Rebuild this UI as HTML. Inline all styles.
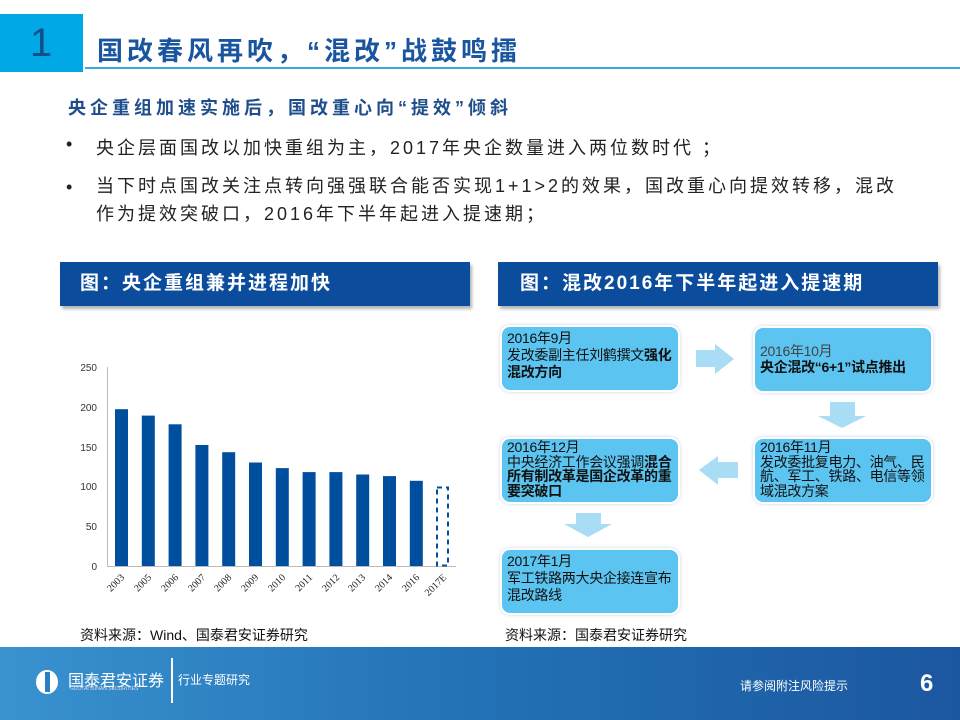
<!DOCTYPE html>
<html><head><meta charset="utf-8"><style>
body{margin:0;width:960px;height:720px;position:relative;overflow:hidden;background:#fff;font-family:"Liberation Sans","Noto Sans CJK SC",sans-serif;}
.a{position:absolute;}
.hd{background:#0b4d9c;color:#fff;font-weight:bold;font-size:19px;line-height:44px;box-shadow:2px 3px 3px rgba(0,0,0,.3);letter-spacing:2px;}
.bx{position:absolute;background:#5bc4f0;border-radius:10px;border:2px solid #fff;font-size:14px;line-height:16px;color:#111;padding:3px 5px;box-sizing:border-box;width:180px;height:67px;box-shadow:0 0 3px rgba(150,170,200,.5);letter-spacing:-0.3px;}
.bx b{font-weight:bold;}
.bul{font-size:18px;color:#222;letter-spacing:3px;}
</style></head><body>
<div class="a" style="left:0;top:14px;width:83px;height:58px;background:#00a8e6;"></div>
<div class="a" style="left:30px;top:14px;line-height:58px;font-size:40px;color:#164d8a;">1</div>
<div class="a" style="left:85px;top:67px;width:875px;height:2px;background:#3aa7e0;"></div>
<div class="a" style="left:97px;top:31px;font-size:26px;font-weight:bold;color:#1a56a0;letter-spacing:4px;">国改春风再吹，“混改”战鼓鸣擂</div>
<div class="a" style="left:68px;top:94px;font-size:18px;font-weight:bold;color:#1f4e8c;letter-spacing:4px;">央企重组加速实施后，国改重心向“提效”倾斜</div>
<div class="a bul" style="left:66px;top:134px;">•</div>
<div class="a bul" style="left:96px;top:134px;">央企层面国改以加快重组为主，2017年央企数量进入两位数时代 ；</div>
<div class="a bul" style="left:66px;top:177px;">•</div>
<div class="a bul" style="left:96px;top:177px;line-height:28px;margin-top:-5px;">当下时点国改关注点转向强强联合能否实现1+1&gt;2的效果，国改重心向提效转移，混改<br>作为提效突破口，2016年下半年起进入提速期；</div>
<div class="a hd" style="left:60px;top:262px;width:410px;text-indent:20px;">图：央企重组兼并进程加快</div>
<div class="a hd" style="left:498px;top:262px;width:440px;text-indent:22px;">图：混改2016年下半年起进入提速期</div>
<svg class="a" style="left:0;top:0" width="480" height="640">
<g font-family="Liberation Sans,sans-serif" font-size="10" fill="#333" text-anchor="end">
<text x="97" y="371">250</text><text x="97" y="411">200</text><text x="97" y="451">150</text><text x="97" y="490">100</text><text x="97" y="530">50</text><text x="97" y="570">0</text>
</g>
<line x1="107.5" y1="367" x2="107.5" y2="567" stroke="#bbb"/>
<line x1="107" y1="566.5" x2="456" y2="566.5" stroke="#bbb"/>
<g fill="#004f9e">
<rect x="115" y="409.2" width="13" height="156.8"/>
<rect x="141.8" y="415.6" width="13" height="150.4"/>
<rect x="168.6" y="424.3" width="13" height="141.7"/>
<rect x="195.4" y="445" width="13" height="121"/>
<rect x="222.2" y="452.2" width="13" height="113.8"/>
<rect x="249" y="462.5" width="13" height="103.5"/>
<rect x="275.8" y="468.1" width="13" height="97.9"/>
<rect x="302.6" y="472.1" width="13" height="93.9"/>
<rect x="329.4" y="472.1" width="13" height="93.9"/>
<rect x="356.2" y="474.5" width="13" height="91.5"/>
<rect x="383" y="476.1" width="13" height="89.9"/>
<rect x="409.8" y="480.8" width="13" height="85.2"/>
</g>
<rect x="437" y="487.5" width="11" height="78" fill="none" stroke="#004f9e" stroke-width="2" stroke-dasharray="5,4"/>
<g font-family="Liberation Serif,serif" font-size="10" fill="#222" text-anchor="end">
<text transform="translate(125,578) rotate(-45)">2003</text>
<text transform="translate(152,578) rotate(-45)">2005</text>
<text transform="translate(179,578) rotate(-45)">2006</text>
<text transform="translate(206,578) rotate(-45)">2007</text>
<text transform="translate(232,578) rotate(-45)">2008</text>
<text transform="translate(259,578) rotate(-45)">2009</text>
<text transform="translate(286,578) rotate(-45)">2010</text>
<text transform="translate(313,578) rotate(-45)">2011</text>
<text transform="translate(340,578) rotate(-45)">2012</text>
<text transform="translate(366,578) rotate(-45)">2013</text>
<text transform="translate(393,578) rotate(-45)">2014</text>
<text transform="translate(420,578) rotate(-45)">2016</text>
<text transform="translate(447,578) rotate(-45)">2017E</text>
</g>
</svg>
<div class="bx" style="left:500px;top:325px;line-height:17px;">2016年9月<br>发改委副主任刘鹤撰文<b>强化<br>混改方向</b></div>
<div class="bx" style="left:753px;top:326px;padding-top:15px;"><span style="color:#444">2016年10月</span><br><b>央企混改“6+1”试点推出</b></div>
<div class="bx" style="left:753px;top:437px;line-height:14.5px;padding-top:1px;">2016年11月<br>发改委批复电力、油气、民航、军工、铁路、电信等领域混改方案</div>
<div class="bx" style="left:500px;top:437px;line-height:14.5px;padding-top:1px;">2016年12月<br>中央经济工作会议强调<b>混合所有制改革是国企改革的重要突破口</b></div>
<div class="bx" style="left:500px;top:548px;line-height:17px;">2017年1月<br>军工铁路两大央企接连宣布混改路线</div>
<svg class="a" style="left:0;top:0" width="960" height="640">
<g fill="#a9dcf5">
<polygon points="696,350 715,350 715,344 734,359 715,374 715,367 696,367"/>
<polygon points="830,402 855,402 855,416 866,416 842,428 818,416 830,416"/>
<polygon points="738,462 718,462 718,456 699,470 718,485 718,478 738,478"/>
<polygon points="576,513 601,513 601,524 612,524 588,537 564,524 576,524"/>
</g></svg>
<div class="a" style="left:80px;top:625px;font-size:14px;color:#111;">资料来源：Wind、国泰君安证券研究</div>
<div class="a" style="left:505px;top:625px;font-size:14px;color:#111;">资料来源：国泰君安证券研究</div>
<div class="a" style="left:0;top:647px;width:960px;height:73px;background:linear-gradient(90deg,#3a92cf,#2474b8 45%,#1b57a0);"></div>
<div class="a" style="left:36px;top:670px;width:22px;height:24px;border-radius:50%;background:#fff;"></div>
<div class="a" style="left:45px;top:672px;width:5px;height:20px;background:#2a7fc0;"></div>
<div class="a" style="left:68px;top:667px;font-size:16px;color:#fff;">国泰君安证券</div>
<div class="a" style="left:70px;top:686px;font-size:5px;color:#dde;">GUOTAI JUNAN SECURITIES</div>
<div class="a" style="left:171px;top:658px;width:2px;height:45px;background:#fff;"></div>
<div class="a" style="left:178px;top:671px;font-size:12px;color:#fff;">行业专题研究</div>
<div class="a" style="left:740px;top:677px;font-size:12px;color:#fff;">请参阅附注风险提示</div>
<div class="a" style="left:920px;top:670px;font-size:24px;font-weight:bold;color:#fff;">6</div>
</body></html>
